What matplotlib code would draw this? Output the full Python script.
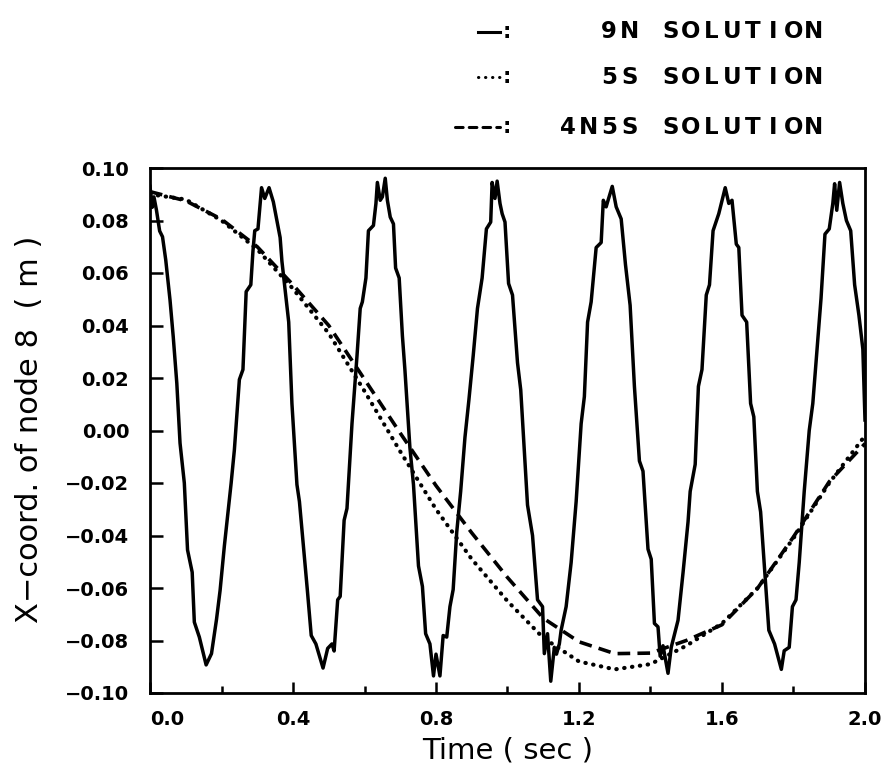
#!/usr/bin/env python3

import matplotlib
matplotlib.use('Agg')
import matplotlib.pyplot as plt
from matplotlib.lines import Line2D

# 9N solution
t_9n = [0.000, 0.006, 0.011, 0.018, 0.027, 0.035, 0.044, 0.056, 0.065, 0.075,
        0.084, 0.096, 0.105, 0.118, 0.124, 0.138, 0.157, 0.172, 0.186, 0.196,
        0.208, 0.227, 0.236,
        0.250, 0.260, 0.269, 0.282, 0.288, 0.293, 0.302, 0.312, 0.321, 0.333,
        0.345, 0.364, 0.369, 0.388, 0.397, 0.411, 0.418, 0.440, 0.451, 0.464,
        0.484, 0.497, 0.509, 0.515, 0.525, 0.532, 0.543, 0.551, 0.565, 0.579,
        0.588, 0.594, 0.604, 0.611, 0.625, 0.632, 0.636, 0.644, 0.650, 0.658,
        0.664, 0.672, 0.681, 0.687, 0.697, 0.706, 0.713, 0.727, 0.737, 0.751,
        0.762, 0.771, 0.783, 0.793, 0.800, 0.811, 0.820, 0.830, 0.839, 0.848,
        0.858, 0.869, 0.881, 0.892, 0.904, 0.916, 0.929, 0.941, 0.953, 0.957,
        0.965, 0.971, 0.979, 0.985, 0.993, 1.003, 1.014, 1.028, 1.037, 1.056,
        1.070, 1.084, 1.098, 1.103, 1.112, 1.121, 1.131, 1.137, 1.145, 1.150,
        1.164, 1.178, 1.192, 1.206, 1.215, 1.224, 1.234, 1.248, 1.262, 1.268,
        1.276, 1.280, 1.293, 1.304, 1.318, 1.330, 1.343, 1.355, 1.369, 1.379,
        1.393, 1.402, 1.411, 1.421, 1.427, 1.435, 1.449, 1.458, 1.477, 1.491,
        1.505, 1.511, 1.525, 1.534, 1.544, 1.556, 1.565, 1.575, 1.591, 1.609,
        1.619, 1.628, 1.640, 1.647, 1.656, 1.669, 1.680, 1.689, 1.699, 1.708,
        1.722, 1.731, 1.747, 1.766, 1.774, 1.788, 1.797, 1.807, 1.816, 1.830,
        1.844, 1.854, 1.863, 1.877, 1.888, 1.900, 1.910, 1.915, 1.921, 1.929,
        1.938, 1.948, 1.960, 1.971, 1.983, 1.994, 2.000]
x_9n = [0.0930, 0.0850, 0.0890, 0.0840, 0.0760, 0.0738, 0.0650, 0.0497, 0.0357, 0.0180,
        -0.0048, -0.0200, -0.0455, -0.0540, -0.0730, -0.0787, -0.0893, -0.0850, -0.0720, -0.0610,
        -0.0440, -0.0200, -0.0074,
        0.0194, 0.0232, 0.0529, 0.0555, 0.0684, 0.0761, 0.0768, 0.0925, 0.0884, 0.0925,
        0.0871, 0.0735, 0.0645, 0.0413, 0.0103, -0.0206, -0.0271, -0.0606, -0.0781, -0.0813,
        -0.0905, -0.0830, -0.0813, -0.0840, -0.0645, -0.0632, -0.0342, -0.0297, 0.0026, 0.0284,
        0.0465, 0.0490, 0.0581, 0.0761, 0.0781, 0.0865, 0.0945, 0.0877, 0.0890, 0.0961,
        0.0877, 0.0813, 0.0787, 0.0619, 0.0581, 0.0361, 0.0232, -0.0065, -0.0206, -0.0516,
        -0.0594, -0.0774, -0.0813, -0.0935, -0.0852, -0.0935, -0.0781, -0.0787, -0.0671, -0.0606,
        -0.0387, -0.0232, -0.0026, 0.0116, 0.0284, 0.0465, 0.0581, 0.0768, 0.0794, 0.0945,
        0.0884, 0.0950, 0.0865, 0.0826, 0.0794, 0.0560, 0.0516, 0.0258, 0.0155, -0.0284,
        -0.0400, -0.0645, -0.0671, -0.0850, -0.0774, -0.0955, -0.0826, -0.0852, -0.0813, -0.0761,
        -0.0671, -0.0503, -0.0271, 0.0026, 0.0129, 0.0413, 0.0490, 0.0697, 0.0716, 0.0877,
        0.0852, 0.0871, 0.0930, 0.0852, 0.0806, 0.0632, 0.0477, 0.0168, -0.0116, -0.0155,
        -0.0452, -0.0490, -0.0735, -0.0748, -0.0860, -0.0820, -0.0925, -0.0826, -0.0723, -0.0542,
        -0.0348, -0.0232, -0.0129, 0.0168, 0.0232, 0.0516, 0.0555, 0.0761, 0.0826, 0.0925,
        0.0865, 0.0877, 0.0710, 0.0697, 0.0439, 0.0413, 0.0103, 0.0052, -0.0232, -0.0310,
        -0.0581, -0.0761, -0.0813, -0.0910, -0.0839, -0.0826, -0.0671, -0.0645, -0.0503, -0.0232,
        0.0000, 0.0103, 0.0258, 0.0503, 0.0748, 0.0768, 0.0865, 0.0940, 0.0839, 0.0945,
        0.0865, 0.0800, 0.0761, 0.0555, 0.0439, 0.0310, 0.0040]

# 5S and 4N5S solutions
t_smooth = [0.0, 0.1, 0.2, 0.3, 0.4, 0.5, 0.6, 0.7, 0.8, 0.9, 1.0,
            1.1, 1.2, 1.3, 1.4, 1.5, 1.6, 1.7, 1.8, 1.9, 2.0]
x_5s = [0.0900, 0.0880, 0.0800, 0.0690, 0.0540, 0.0370, 0.0150, -0.0080, -0.0300, -0.0490, -0.0650,
        -0.0790, -0.0880, -0.0910, -0.0890, -0.0820, -0.0735, -0.0600, -0.0410, -0.0200, -0.0020]
x_4n5s = [0.0910, 0.0875, 0.0805, 0.0700, 0.0555, 0.0400, 0.0195, -0.0010, -0.0210, -0.0390, -0.0560,
          -0.0715, -0.0805, -0.0850, -0.0848, -0.0800, -0.0740, -0.0600, -0.0405, -0.0195, -0.0050]

x_ticks = [0.0, 0.4, 0.8, 1.2, 1.6, 2.0]
x_labels = ['0.0', '0.4', '0.8', '1.2', '1.6', '2.0']
y_ticks = [0.10, 0.08, 0.06, 0.04, 0.02, 0.00, -0.02, -0.04, -0.06, -0.08, -0.10]
y_labels = ['0.10', '0.08', '0.06', '0.04', '0.02', '0.00',
            '\u22120.02', '\u22120.04', '\u22120.06', '\u22120.08', '\u22120.10']
legend_names = ['9N SOLUTION', '5S SOLUTION', '4N5S SOLUTION']

plt.rcParams['font.family'] = 'DejaVu Sans'

W, H = 889, 774
fig = plt.figure(figsize=(W/100, H/100), dpi=100)
ax = fig.add_axes([150/W, 1-693/H, 715/W, 525/H])

ax.plot(t_9n, x_9n, color='black', lw=2.5)
ax.plot(t_smooth, x_5s, color='black', lw=3.0, linestyle=(0, (0.1, 1.8)), dash_capstyle='round')
ax.plot(t_smooth, x_4n5s, color='black', lw=2.6, linestyle=(0, (3.5, 2.0)))

ax.set_xlim(0, 2.0)
ax.set_ylim(-0.10, 0.10)
for s in ax.spines.values():
    s.set_linewidth(2.0)

ax.set_xticks(x_ticks)
ax.set_xticks([0.2, 0.6, 1.0, 1.4, 1.8], minor=True)
ax.set_xticklabels(x_labels, fontsize=14, fontweight='bold')
ax.get_xticklabels()[0].set_horizontalalignment('left')
ax.set_yticks(y_ticks)
ax.set_yticklabels(y_labels, fontsize=14, fontweight='bold')
ax.tick_params(axis='x', which='major', direction='in', length=8, width=1.8, pad=12)
ax.tick_params(axis='x', which='minor', direction='in', length=5, width=1.8)
ax.tick_params(axis='y', which='major', direction='in', length=9, width=1.8, pad=15)

ax.set_xlabel('Time ( sec )', fontsize=21)
ax.set_ylabel('X\u2212coord. of node 8  ( m )', fontsize=22)
ax.xaxis.set_label_coords(0.5, -0.082)
ax.yaxis.set_label_coords(-0.148, 0.503)

# hand-drawn legend above the plot, letters on a fixed pitch like a plotter font
rows_y = [1-32/H, 1-77/H, 1-127/H]
right_end = 824
pitch = 20.5
styles = ['-', (0, (0.1, 2.2)), (0, (2.5, 2.0))]
for i in range(3):
    x_start = 478 if i < 2 else 455
    fig.add_artist(Line2D([x_start/W, 500/W], [rows_y[i], rows_y[i]], color='black',
                          lw=2.2, linestyle=styles[i],
                          dash_capstyle='round', transform=fig.transFigure))
    fig.text(503/W, rows_y[i], ':', fontsize=15, fontweight='bold',
             ha='left', va='center')
    name = legend_names[i]
    a = right_end - pitch*len(name)
    for k, ch in enumerate(name):
        if ch == ' ':
            continue
        fig.text((a + pitch*(k + 0.5))/W, rows_y[i], ch, fontsize=16.5,
                 fontweight='bold', ha='center', va='center')

fig.savefig('out.png', dpi=100)
